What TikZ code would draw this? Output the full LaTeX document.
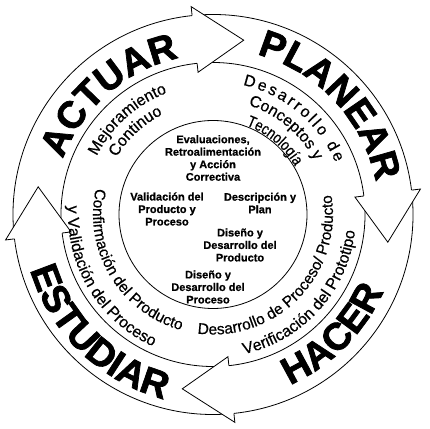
\documentclass[tikz,border=0pt]{standalone}
\usepackage{fontspec}
\setmainfont{Liberation Sans}[FakeBold=0.5]
\newfontfamily\heavyfont[FakeBold=2]{Liberation Sans Bold}
\newfontfamily\innerfont[FakeBold=0.9]{Liberation Sans Bold}
\newfontfamily\condfont[FakeStretch=0.82,FakeBold=0.5]{Liberation Sans}
\usetikzlibrary{decorations.text}
\newcommand\pdcaShaft[2]{\path[ring] (#1:200) arc[start angle=#1,end angle=#2,radius=200] -- (#2:152) arc[start angle=#2,end angle=#1,radius=152] -- cycle;}
\newcommand\pdcaHead[2]{\fill[white] (#1:209) -- (#2:177) -- (#1:143) -- cycle;
  \draw[headline] (#1:200) -- (#1:209) -- (#2:177) -- (#1:143) -- (#1:152);}
% clockwise text (tops outward): center angle, baseline radius, font, text
\newcommand\pdcaTop[4]{\path[decorate,decoration={text along path,text align=center,text={|#3|#4}}] ({#1+70}:#2) arc[start angle={#1+70},end angle={#1-70},radius=#2];}
% counter-clockwise text (tops inward)
\newcommand\pdcaBot[4]{\path[decorate,decoration={text along path,text align=center,text={|#3|#4}}] ({#1-70}:#2) arc[start angle={#1-70},end angle={#1+70},radius=#2];}
\begin{document}
\begin{tikzpicture}[x=1pt,y=1pt,
  ring/.style={draw=black,fill=white,line width=0.8pt},
  headline/.style={draw=black,line width=0.8pt,line join=miter},
  innertxt/.style={font=\innerfont\fontsize{11}{12.5}\selectfont,align=center,inner sep=0pt},
  circ/.style={draw=black,line width=0.8pt}]
\useasboundingbox (0,0) rectangle (430,428);
\begin{scope}[shift={(213,213.5)}]
  % arrow shafts
  \pdcaShaft{185}{95}
  \pdcaShaft{94}{6}
  \pdcaShaft{5}{-85}
  \pdcaShaft{274}{186}
  % arrow heads
  \pdcaHead{96}{80}
  \pdcaHead{7}{-9}
  \pdcaHead{-84}{-100}
  \pdcaHead{187}{171}
  % big words
  \pdcaTop{131}{160}{\heavyfont\fontsize{38}{38}\selectfont}{ACTUAR}
  \pdcaTop{43}{166}{\heavyfont\fontsize{38}{38}\selectfont}{PLANEAR}
  \pdcaBot{315}{187}{\heavyfont\fontsize{38}{38}\selectfont}{HACER}
  \pdcaBot{226}{191}{\heavyfont\fontsize{38}{38}\selectfont}{ESTUDIAR}
  % secondary texts
  \pdcaTop{132}{130}{\fontsize{16}{16}\selectfont}{Mejoramiento}
  \pdcaTop{133}{112}{\fontsize{16}{16}\selectfont}{Continuo}
  \path[decorate,decoration={text along path,text align=fit to path,text={|\fontsize{16}{16}\selectfont|Desarrollo de}}] (77:133) arc[start angle=77,end angle=23,radius=133];
  \pdcaTop{50}{115}{\fontsize{16}{16}\selectfont}{Conceptos y}
  \pdcaTop{50}{95}{\condfont\fontsize{16}{16}\selectfont}{Tecnología}
  \pdcaBot{211}{120}{\fontsize{15.5}{16}\selectfont}{Confirmación del Producto}
  \pdcaBot{211}{145}{\fontsize{16}{16}\selectfont}{y Validación del Proceso}
  \pdcaBot{316}{120}{\fontsize{15.5}{16}\selectfont}{Desarrollo de Proceso/ Producto}
  \pdcaBot{318}{143}{\fontsize{16}{16}\selectfont}{Verificación del Prototipo}
  % inner circle
  \draw[circ] (0,0) circle[radius=94];
\end{scope}
\node[innertxt] (eval) at (213,270) {Evaluaciones,\\Retroalimentación\\y Acción\\Correctiva};
\node[innertxt] (valid) at (167,219) {Validación del\\Producto y\\Proceso};
\node[innertxt] (desc) at (260,225) {Descripción y\\Plan};
\node[innertxt] (dprod) at (240,183) {Diseño y\\Desarrollo del\\Producto};
\node[innertxt] (dproc) at (208,141) {Diseño y\\Desarrollo del\\Proceso};
\end{tikzpicture}
\end{document}
